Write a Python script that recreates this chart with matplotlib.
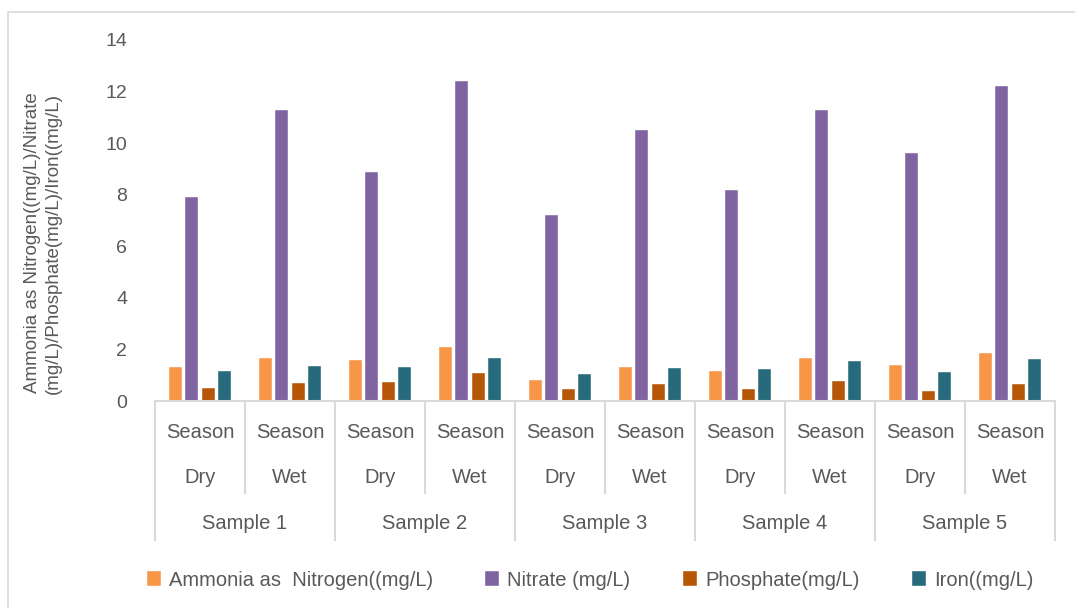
import numpy as np
import matplotlib.pyplot as plt
from matplotlib.patches import Rectangle

plt.rcParams['font.family'] = ['Liberation Sans', 'DejaVu Sans']

samples = ['Sample 1', 'Sample 2', 'Sample 3', 'Sample 4', 'Sample 5']
seasons = ['Dry', 'Wet']
series_names = ['Ammonia as  Nitrogen((mg/L)', 'Nitrate (mg/L)', 'Phosphate(mg/L)', 'Iron((mg/L)']
ammonia = [1.3, 1.67, 1.6, 2.1, 0.8, 1.3, 1.18, 1.67, 1.4, 1.88]
nitrate = [7.9, 11.3, 8.9, 12.4, 7.2, 10.5, 8.2, 11.3, 9.6, 12.2]
phosphate = [0.52, 0.7, 0.75, 1.1, 0.45, 0.64, 0.48, 0.77, 0.37, 0.67]
iron = [1.17, 1.35, 1.33, 1.65, 1.05, 1.29, 1.26, 1.57, 1.11, 1.61]
colors = ['#F79646', '#8064A2', '#B65708', '#276A7C']

txt = '#595959'
grid = '#D9D9D9'

fig = plt.figure(figsize=(10.75, 6.08), dpi=100)
ax = fig.add_axes([155/1075, 1-401/608, 900/1075, 361/608])

x = np.arange(len(ammonia))
width = 0.145
step = 0.181
handles = []
for i, (vals, c) in enumerate(zip([ammonia, nitrate, phosphate, iron], colors)):
    b = ax.bar(x + (i - 1.5)*step, vals, width, color=c, edgecolor='white', linewidth=0.3)
    handles.append(b)

ax.set_xlim(-0.5, len(x) - 0.5)
ax.set_ylim(0, 14)
ax.set_yticks(np.arange(0, 15, 2))
ax.tick_params(axis='y', length=0, labelsize=14, labelcolor=txt, pad=20)
ax.set_xticks([])
for s in ['top', 'right', 'left']:
    ax.spines[s].set_visible(False)
ax.spines['bottom'].set_color(grid)
ax.spines['bottom'].set_linewidth(1.5)

# multi-level category axis
tr = ax.get_xaxis_transform()
for k in range(len(x) + 1):
    b = k - 0.5
    low = -0.385 if k % 2 == 0 else -0.2548
    ax.plot([b, b], [0, low], color=grid, lw=1.5, transform=tr, clip_on=False)
for k in range(len(x)):
    ax.text(k, -0.086, 'Season', ha='center', va='center', fontsize=14.5, color=txt, transform=tr)
    ax.text(k, -0.213, seasons[k % 2], ha='center', va='center', fontsize=14.5, color=txt, transform=tr)
for j, s in enumerate(samples):
    ax.text(2*j + 0.5, -0.338, s, ha='center', va='center', fontsize=14.5, color=txt, transform=tr)

fig.text(43/1075, 1-243/608, 'Ammonia as Nitrogen((mg/L)/Nitrate\n(mg/L)/Phosphate(mg/L)/Iron((mg/L)',
         rotation=90, ha='center', va='center', fontsize=13.5, color=txt, linespacing=1.25)

fig.legend(handles, series_names, loc='center', bbox_to_anchor=(590/1075, 1-580/608), ncol=4,
           frameon=False, fontsize=14.5, labelcolor=txt, handlelength=0.7, handleheight=0.7,
           handletextpad=0.4, columnspacing=2.6)

fig.patches.append(Rectangle((8/1075, -0.1), 1.2, 1 - 12/608 + 0.1, transform=fig.transFigure,
                             fill=False, edgecolor=grid, lw=1.2))

fig.savefig('out.png', dpi=100)
